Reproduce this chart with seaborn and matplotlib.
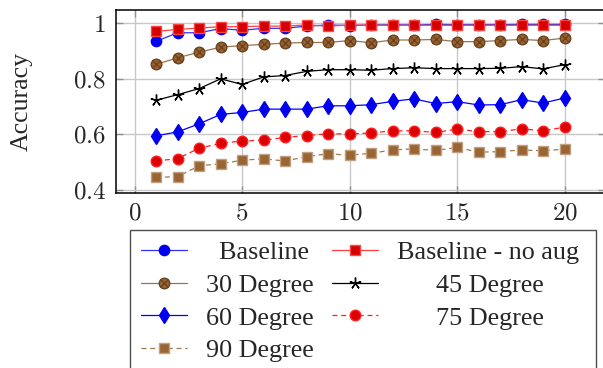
import numpy as np
import pandas as pd
import matplotlib
matplotlib.use('Agg')
import matplotlib.pyplot as plt
from matplotlib.path import Path
import seaborn as sns

epochs = list(range(1, 21))
baseline = [0.935, 0.966, 0.966, 0.981, 0.975, 0.982, 0.982, 0.990, 0.994, 0.992,
            0.994, 0.995, 0.994, 0.996, 0.995, 0.995, 0.995, 0.996, 0.996, 0.996]
no_aug = [0.971, 0.978, 0.983, 0.988, 0.988, 0.990, 0.990, 0.994, 0.990, 0.994,
          0.993, 0.993, 0.993, 0.993, 0.993, 0.993, 0.993, 0.993, 0.993, 0.993]
deg30 = [0.852, 0.876, 0.896, 0.914, 0.920, 0.924, 0.929, 0.931, 0.931, 0.938,
         0.930, 0.940, 0.940, 0.942, 0.934, 0.934, 0.938, 0.942, 0.938, 0.947]
deg45 = [0.723, 0.743, 0.765, 0.800, 0.780, 0.807, 0.812, 0.827, 0.833, 0.833,
         0.831, 0.837, 0.840, 0.837, 0.837, 0.837, 0.838, 0.844, 0.836, 0.851]
deg60 = [0.595, 0.609, 0.638, 0.672, 0.679, 0.691, 0.691, 0.691, 0.703, 0.703,
         0.707, 0.719, 0.728, 0.711, 0.718, 0.706, 0.707, 0.725, 0.713, 0.731]
deg75 = [0.504, 0.513, 0.550, 0.568, 0.576, 0.579, 0.589, 0.596, 0.602, 0.602,
         0.605, 0.613, 0.613, 0.607, 0.619, 0.610, 0.610, 0.620, 0.613, 0.626]
deg90 = [0.445, 0.448, 0.487, 0.494, 0.507, 0.512, 0.504, 0.520, 0.530, 0.525,
         0.532, 0.544, 0.548, 0.542, 0.553, 0.536, 0.538, 0.544, 0.541, 0.547]

xticks = [0, 5, 10, 15, 20]
yticks = [0.4, 0.6, 0.8, 1.0]
ytick_labels = ['0.4', '0.6', '0.8', '1']

sns.set_theme(style='white')
plt.rcParams['font.family'] = ['Liberation Serif', 'DejaVu Serif']
plt.rcParams['mathtext.fontset'] = 'cm'

# circle with a cross inside (otimes)
c = 0.7071
otimes = Path.make_compound_path(
    Path.unit_circle(),
    Path([(-c, -c), (c, c)], [Path.MOVETO, Path.LINETO]),
    Path([(-c, c), (c, -c)], [Path.MOVETO, Path.LINETO]))

fig = plt.figure(figsize=(6.03, 3.68), dpi=100)
ax = fig.add_axes([115.7 / 603, 1 - 192.7 / 368, (605 - 115.7) / 603, (192.7 - 10) / 368])

series = [
    ('Baseline', baseline, dict(color='#3030ff', marker='o', markersize=7.4,
                                markerfacecolor='#0000ee', markeredgecolor='#0000ee', linestyle='-')),
    ('Baseline - no aug', no_aug, dict(color='#ff4040', marker='s', markersize=7.6,
                                       markerfacecolor='#d40000', markeredgecolor='#ff4444', linestyle='-')),
    ('30 Degree', deg30, dict(color='#9a7350', marker=otimes, markersize=7.6,
                              markerfacecolor='#9a6030', markeredgecolor='#6a4520', linestyle='-')),
    ('45 Degree', deg45, dict(color='black', marker=(5, 2, 0), markersize=8.5,
                              markerfacecolor='black', markeredgecolor='black', linestyle='-')),
    ('60 Degree', deg60, dict(color='#0000ff', marker='d', markersize=8.5,
                              markerfacecolor='#0000ee', markeredgecolor='#0000ee', linestyle='-')),
    ('75 Degree', deg75, dict(color='#ff2020', marker='o', markersize=7.6,
                              markerfacecolor='#dd0000', markeredgecolor='#ff2020', linestyle=(0, (4, 3)))),
    ('90 Degree', deg90, dict(color='#a07850', marker='s', markersize=7.6,
                              markerfacecolor='#996633', markeredgecolor='#c0a080', linestyle=(0, (4, 3)))),
]

for name, vals, style in series:
    df = pd.DataFrame({'epoch': epochs, 'acc': vals})
    sns.lineplot(data=df, x='epoch', y='acc', ax=ax, label=name, linewidth=0.9,
                 markeredgewidth=1.0, **style)

ax.set_xlim(-0.88, 21.88)
ax.set_ylim(0.39, 1.048)
ax.set_xticks(xticks)
ax.set_xticklabels(['$%d$' % t for t in xticks], fontsize=18)
ax.set_yticks(yticks)
ax.set_yticklabels(['$%s$' % t for t in ytick_labels], fontsize=18)
ax.grid(True, color='#c8c8c8', linewidth=1.0)
ax.tick_params(direction='in', length=5, width=1, color='#909090',
               top=True, right=True, bottom=True, left=True, pad=7)
for s in ax.spines.values():
    s.set_color('black')
    s.set_linewidth(1.1)

ax.set_xlabel('')
ax.set_ylabel('Accuracy', fontsize=18.5)
ax.yaxis.set_label_coords(-0.169, 0.5)

handles, labels = ax.get_legend_handles_labels()
order = [0, 2, 4, 6, 1, 3, 5]
pretty = {'Baseline': '  Baseline', '45 Degree': '      45 Degree',
          '75 Degree': '      75 Degree', 'Baseline - no aug': 'Baseline - no aug '}
leg = ax.legend([handles[i] for i in order], [pretty.get(labels[i], labels[i]) for i in order],
                ncol=2, loc='upper left', bbox_to_anchor=(130 / 603, 1 - 230 / 368),
                bbox_transform=fig.transFigure, borderaxespad=0, fontsize=18.8,
                handlelength=1.76, handletextpad=0.72, columnspacing=0.7,
                borderpad=0.42, labelspacing=0.36, frameon=True, fancybox=False)
leg.get_frame().set_edgecolor('#222222')
leg.get_frame().set_linewidth(1.0)

fig.savefig('out.png', dpi=100)
